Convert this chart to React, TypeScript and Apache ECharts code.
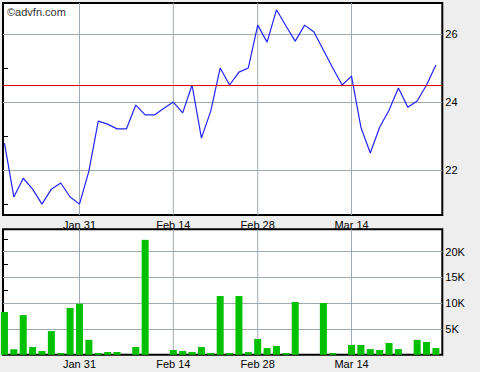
import React, { useEffect, useRef } from "react";
import * as echarts from "echarts";

const dates = [
  "Jan 21", "Jan 22", "Jan 23", "Jan 24", "Jan 27", "Jan 28", "Jan 29", "Jan 30", "Jan 31",
  "Feb 3", "Feb 4", "Feb 5", "Feb 6", "Feb 7", "Feb 10", "Feb 11", "Feb 12", "Feb 13", "Feb 14",
  "Feb 18", "Feb 19", "Feb 20", "Feb 21", "Feb 24", "Feb 25", "Feb 26", "Feb 27", "Feb 28",
  "Mar 3", "Mar 4", "Mar 5", "Mar 6", "Mar 7", "Mar 10", "Mar 11", "Mar 12", "Mar 13", "Mar 14",
  "Mar 17", "Mar 18", "Mar 19", "Mar 20", "Mar 21", "Mar 24", "Mar 25", "Mar 26", "Mar 27",
];

const prices = [
  22.79, 21.21, 21.76, 21.44, 21.0, 21.44, 21.62, 21.21, 21.0,
  21.97, 23.44, 23.35, 23.21, 23.21, 23.91, 23.62, 23.62, 23.82, 24.0,
  23.68, 24.5, 22.94, 23.74, 25.0, 24.5, 24.88, 25.0, 26.26,
  25.76, 26.71, 26.24, 25.79, 26.26, 26.06, 25.53, 25.0, 24.5, 24.76,
  23.26, 22.5, 23.26, 23.76, 24.41, 23.85, 24.03, 24.5, 25.09,
];

const volumes = [
  8300, 1100, 7700, 1500, 740, 4600, 350, 9100, 9900,
  2900, 350, 540, 540, 0, 1500, 22300, 0, 0, 930,
  740, 540, 1500, 350, 11400, 350, 11400, 540, 3070,
  1300, 1700, 350, 10250, 0, 0, 10050, 350, 0, 1900,
  1900, 1100, 930, 2300, 1100, 0, 2900, 2500, 1300,
];

const xTickLabels = ["Jan 31", "Feb 14", "Feb 28", "Mar 14"];
const priceTicks = [21, 22, 23, 24, 25, 26];
const priceLabels = [22, 24, 26];
const referencePrice = 24.5;
const volumeTicks = [2500, 5000, 7500, 10000, 12500, 15000, 17500, 20000, 22500];
const volumeLabels = [5000, 10000, 15000, 20000];

const FONT = "'Liberation Sans', Arial, sans-serif";
const GRID_COLOR = "#9eaab2";

export default function App() {
  const ref = useRef<HTMLDivElement>(null);

  useEffect(() => {
    if (!ref.current) return;
    const chart = echarts.init(ref.current, undefined, { renderer: "svg" });
    const labelIdx = xTickLabels.map((l) => dates.indexOf(l));
    const xMin = -0.1563;
    const xMax = 46.68;
    const pMin = 20.68, pMax = 26.91;
    const vMin = 0, vMax = 24350;

    const xAxisBase = (gridIndex: number) => ({
      type: "value" as const,
      gridIndex,
      min: xMin,
      max: xMax,
      axisLine: { show: false },
      axisTick: { show: false },
      splitLine: { show: false },
      axisLabel: {
        customValues: labelIdx,
        formatter: (v: number) => dates[Math.round(v)] ?? "",
        color: "#000",
        fontSize: 11,
        fontFamily: FONT,
        margin: 4,
      },
    });

    const gridLineStyle = { color: GRID_COLOR, width: 1, type: "solid" as const };

    const vLineSeries = (xAxisIndex: number, yAxisIndex: number, lo: number, hi: number) =>
      labelIdx.map((i) => ({
        type: "line", xAxisIndex, yAxisIndex, z: 1, silent: true,
        data: [[i, lo], [i, hi]],
        showSymbol: false, symbol: "none",
        lineStyle: gridLineStyle,
      }));

    const option: any = {
      animation: false,
      backgroundColor: "#eeeeee",
      grid: [
        { left: 3, top: 3, width: 439.3, height: 212, show: true, backgroundColor: "#fff", borderColor: "#000", borderWidth: 2 },
        { left: 3, top: 229.3, width: 439.3, height: 125.5, show: true, backgroundColor: "#fff", borderColor: "#000", borderWidth: 2 },
      ],
      xAxis: [xAxisBase(0), xAxisBase(1)],
      yAxis: [
        {
          type: "value", gridIndex: 0, position: "right", min: pMin, max: pMax,
          axisLine: { show: false },
          splitLine: { show: false },
          axisTick: { show: true, inside: false, length: 3, customValues: priceTicks, lineStyle: { color: "#000" } },
          axisLabel: { customValues: priceLabels, color: "#000", fontSize: 11, fontFamily: FONT, margin: 3 },
        },
        {
          type: "value", gridIndex: 0, position: "left", min: pMin, max: pMax,
          axisLine: { show: false },
          splitLine: { show: false },
          axisTick: { show: true, inside: true, length: 5, customValues: priceTicks, lineStyle: { color: "#000" } },
          axisLabel: { show: false },
        },
        {
          type: "value", gridIndex: 1, position: "right", min: vMin, max: vMax,
          axisLine: { show: false },
          splitLine: { show: false },
          axisTick: { show: true, inside: false, length: 3, customValues: volumeTicks, lineStyle: { color: "#000" } },
          axisLabel: {
            customValues: volumeLabels, color: "#000", fontSize: 11, fontFamily: FONT, margin: 3,
            formatter: (v: number) => v / 1000 + "K",
          },
        },
        {
          type: "value", gridIndex: 1, position: "left", min: vMin, max: vMax,
          axisLine: { show: false },
          splitLine: { show: false },
          axisTick: { show: true, inside: true, length: 5, customValues: volumeTicks, lineStyle: { color: "#000" } },
          axisLabel: { show: false },
        },
      ],
      graphic: [
        {
          type: "text", left: 7, top: 6, z: 100,
          style: { text: "©advfn.com", fill: "#333", font: `11px ${FONT}` },
        },
      ],
      series: [
        ...vLineSeries(0, 0, pMin, pMax),
        ...vLineSeries(1, 2, vMin, vMax),
        {
          type: "line", xAxisIndex: 0, yAxisIndex: 0, data: [], z: 1, silent: true,
          markLine: {
            silent: true, symbol: "none", z: 1, label: { show: false }, lineStyle: gridLineStyle,
            data: priceLabels.map((p) => ({ yAxis: p })),
          },
        },
        {
          type: "line", xAxisIndex: 1, yAxisIndex: 2, data: [], z: 1, silent: true,
          markLine: {
            silent: true, symbol: "none", z: 1, label: { show: false }, lineStyle: gridLineStyle,
            data: volumeLabels.map((p) => ({ yAxis: p })),
          },
        },
        {
          type: "line", xAxisIndex: 0, yAxisIndex: 0, z: 3,
          data: prices.map((p, i) => [i, p]),
          showSymbol: false, symbol: "none",
          lineStyle: { color: "#2222ff", width: 1.2 },
          markLine: {
            silent: true, symbol: "none", z: 4, label: { show: false },
            lineStyle: { color: "#e00000", width: 1, type: "solid" },
            data: [{ yAxis: referencePrice }],
          },
        },
        {
          type: "bar", xAxisIndex: 1, yAxisIndex: 2, z: 3,
          data: volumes.map((v, i) => [i, v]),
          barWidth: 7,
          itemStyle: { color: "#00c000" },
        },
      ],
    };
    chart.setOption(option);
    return () => chart.dispose();
  }, []);

  return (
    <div
      ref={ref}
      style={{ position: "fixed", left: 0, top: 0, width: 480, height: 372 }}
    />
  );
}
